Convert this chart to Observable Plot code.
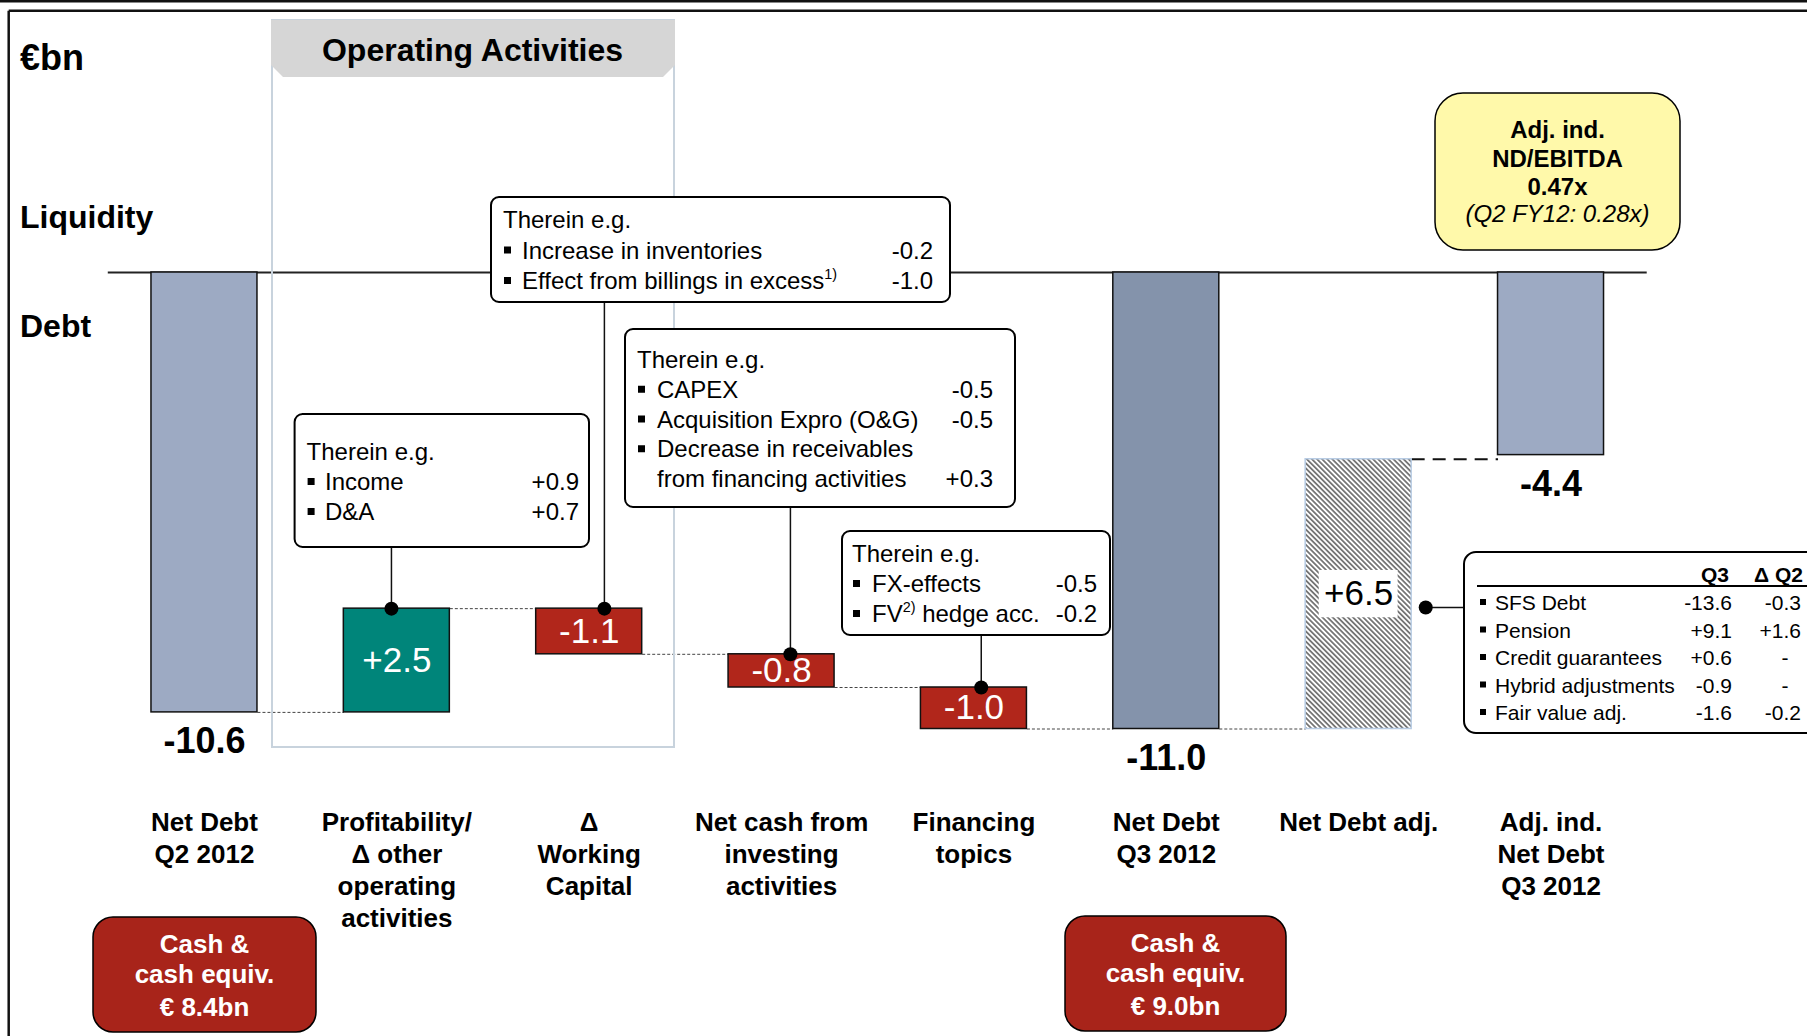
<!DOCTYPE html>
<html>
<head>
<meta charset="utf-8">
<script src="https://cdn.jsdelivr.net/npm/d3@7"></script>
<script src="https://cdn.jsdelivr.net/npm/@observablehq/plot@0.6"></script>
<style>
html, body { margin: 0; padding: 0; background: #fff; overflow: hidden; }
#wrap { position: relative; width: 1807px; height: 1036px; }
#wrap > svg { position: absolute; left: 0; top: 0; }
</style>
</head>
<body>
<div id="wrap"></div>
<script>
// ---------------- DATA ----------------
const categories = [
  "Net Debt\nQ2 2012",
  "Profitability/\nΔ other\noperating\nactivities",
  "Δ\nWorking\nCapital",
  "Net cash from\ninvesting\nactivities",
  "Financing\ntopics",
  "Net Debt\nQ3 2012",
  "Net Debt adj.",
  "Adj. ind.\nNet Debt\nQ3 2012"
];
const values = [-10.6, 2.5, -1.1, -0.8, -1.0, -11.0, 6.5, -4.4];
const kinds = ["total", "delta", "delta", "delta", "delta", "subtotal", "adjustment", "total"];

const calloutTitle = "Therein e.g.";
const profitItems = ["Income", "D&A"];
const profitValues = ["+0.9", "+0.7"];
const wcItems = ["Increase in inventories", "Effect from billings in excess{1)}"];
const wcValues = ["-0.2", "-1.0"];
const investItems = ["CAPEX", "Acquisition Expro (O&G)", "Decrease in receivables\nfrom financing activities"];
const investValues = ["-0.5", "-0.5", "+0.3"];
const finItems = ["FX-effects", "FV{2)} hedge acc."];
const finValues = ["-0.5", "-0.2"];

const adjHeaders = ["Q3", "Δ Q2"];
const adjItems = ["SFS Debt", "Pension", "Credit guarantees", "Hybrid adjustments", "Fair value adj."];
const adjQ3 = [-13.6, 9.1, 0.6, -0.9, -1.6];
const adjDeltaQ2 = [-0.3, 1.6, null, null, -0.2];

const ratioLines = ["Adj. ind.", "ND/EBITDA", "0.47x"];
const ratioPrior = "(Q2 FY12: 0.28x)";
const cashLabels = ["Cash &\ncash equiv.\n€ 8.4bn", "Cash &\ncash equiv.\n€ 9.0bn"];
const unitLabel = "€bn";
const sideLabels = ["Liquidity", "Debt"];
const sectionTitle = "Operating Activities";

// ---------------- STYLE / LAYOUT ----------------
const FONT = '"Liberation Sans", Arial, Helvetica, sans-serif';
const COLORS = {
  total: "#9DAAC3", subtotal: "#8493AB", up: "#00857A", down: "#B1261B",
  cash: "#A8241A", yellow: "#FFF9AA", hatchBorder: "#B8CCE4", outline: "#C8D3DD", header: "#D6D6D6",
  hatchPlaceholder: "#888887"
};
const HALF = 0.2755;
const xOpts = {type: "linear", domain: [-0.725, 7.725], range: [64.5, 1690]};
const yOpts = {type: "linear", domain: [(272 - 1036) / 41.5, 272 / 41.5], range: [1036, 0]};
const xs = Plot.scale({x: xOpts});
const ys = Plot.scale({y: yOpts});

const fmt = v => (v > 0 ? "+" : v < 0 ? "-" : "") + Math.abs(v).toFixed(1);

// waterfall geometry derived from the data
let running = 0;
const bars = values.map((v, i) => {
  const kind = kinds[i];
  let y1, y2;
  if (kind === "total" || kind === "subtotal") { y1 = 0; y2 = v; running = v; }
  else { y1 = running; y2 = +(running + v).toFixed(4); running = y2; }
  return {i, cat: categories[i], value: v, kind, y1, y2,
          top: Math.max(y1, y2), bottom: Math.min(y1, y2), level: running};
});
const connectors = bars.slice(0, -1).map((b, i) => ({x1: i + HALF, x2: i + 1 - HALF, y: b.level, last: i === bars.length - 2}));

const calloutLayout = [
  {items: profitItems, vals: profitValues, x: 294.6, y: 414, w: 294.4, h: 133, first: 460, step: 30, textX: 306.6, itemX: 325, valX: 579, cat: 1, offset: -0.028},
  {items: wcItems, vals: wcValues, x: 491, y: 197, w: 459, h: 105, first: 228, step: 30.5, textX: 503, itemX: 522, valX: 933, cat: 2, offset: 0.079},
  {items: investItems, vals: investValues, x: 625, y: 329, w: 390, h: 178, first: 368, step: 29.75, textX: 637, itemX: 657, valX: 993, cat: 3, offset: 0.046},
  {items: finItems, vals: finValues, x: 842, y: 531, w: 268, h: 104, first: 562, step: 30, textX: 852, itemX: 872, valX: 1097, cat: 4, offset: 0.038}
];
const tableLayout = {x: 1464, y: 552, w: 420, h: 181, header: 582, rule: 586, first: 610, step: 27.5,
  bulletX: 1480, itemX: 1495, q3X: 1732, dX: 1801, dashX: 1785, anchorCat: 6, anchorOffset: HALF + 0.073, anchorY: 607};

const leaders = calloutLayout.map(c => ({x: c.cat + c.offset, y1: ys.invert(c.y + c.h), y2: bars[c.cat].top}));
const tableLink = [{x1: tableLayout.anchorCat + tableLayout.anchorOffset, x2: xs.invert(tableLayout.x), y: ys.invert(tableLayout.anchorY)}];

// ---------------- PLOT ----------------
const chart = Plot.plot({
  width: 1807, height: 1036,
  marginTop: 0, marginRight: 0, marginBottom: 0, marginLeft: 0,
  x: {...xOpts, axis: null},
  y: {...yOpts, axis: null},
  style: {background: "transparent", fontFamily: FONT, overflow: "visible"},
  marks: [
    Plot.ruleY([0], {x1: () => -0.5, x2: () => 7.5, stroke: "#222", strokeWidth: 2}),
    Plot.link(connectors.filter(d => !d.last), {x1: "x1", x2: "x2", y1: "y", y2: "y", stroke: "#444", strokeWidth: 1, strokeDasharray: "3,2"}),
    Plot.link(connectors.filter(d => d.last), {x1: "x1", x2: "x2", y1: "y", y2: "y", stroke: "#111", strokeWidth: 2, strokeDasharray: "13,8"}),
    Plot.rect(bars.filter(d => d.kind === "total"), {x1: d => d.i - HALF, x2: d => d.i + HALF, y1: "y1", y2: "y2", fill: COLORS.total, stroke: "#111", strokeWidth: 1.5}),
    Plot.rect(bars.filter(d => d.kind === "subtotal"), {x1: d => d.i - HALF, x2: d => d.i + HALF, y1: "y1", y2: "y2", fill: COLORS.subtotal, stroke: "#111", strokeWidth: 1.5}),
    Plot.rect(bars.filter(d => d.kind === "delta" && d.value > 0), {x1: d => d.i - HALF, x2: d => d.i + HALF, y1: "y1", y2: "y2", fill: COLORS.up, stroke: "#111", strokeWidth: 1.5}),
    Plot.rect(bars.filter(d => d.kind === "delta" && d.value < 0), {x1: d => d.i - HALF, x2: d => d.i + HALF, y1: "y1", y2: "y2", fill: COLORS.down, stroke: "#111", strokeWidth: 1.5}),
    Plot.rect(bars.filter(d => d.kind === "adjustment"), {x1: d => d.i - HALF, x2: d => d.i + HALF, y1: "y1", y2: "y2", fill: COLORS.hatchPlaceholder, stroke: COLORS.hatchBorder, strokeWidth: 1.5}),
    // value labels
    Plot.text(bars.filter(d => d.kind === "total" || d.kind === "subtotal"), {x: "i", y: "bottom", text: d => fmt(d.value), dy: 15, lineAnchor: "top", fontSize: 36, fontWeight: "bold", fill: "#000"}),
    Plot.text(bars.filter(d => d.kind === "delta"), {x: "i", y: d => (d.y1 + d.y2) / 2, text: d => fmt(d.value), lineAnchor: "middle", fontSize: 35, fill: "#fff"}),
    Plot.rect(bars.filter(d => d.kind === "adjustment"), {x1: d => d.i - 0.205, x2: d => d.i + 0.205, y1: d => (d.y1 + d.y2) / 2 - 0.57, y2: d => (d.y1 + d.y2) / 2 + 0.57, fill: "#fff"}),
    Plot.text(bars.filter(d => d.kind === "adjustment"), {x: "i", y: d => (d.y1 + d.y2) / 2, text: d => fmt(d.value), lineAnchor: "middle", fontSize: 35, fill: "#000"}),
    // category labels
    Plot.text(categories, {x: (d, i) => i, text: d => d, frameAnchor: "top", dy: 808, lineAnchor: "top", fontSize: 26, fontWeight: "bold", lineHeight: 32 / 26, fill: "#000"}),
    // leaders
    Plot.ruleX(leaders, {x: "x", y1: "y1", y2: "y2", stroke: "#111", strokeWidth: 1.5}),
    Plot.dot(leaders, {x: "x", y: "y2", r: 7, fill: "#000", stroke: null}),
    Plot.link(tableLink, {x1: "x1", x2: "x2", y1: "y", y2: "y", stroke: "#111", strokeWidth: 1.5}),
    Plot.dot(tableLink, {x: "x1", y: "y", r: 7, fill: "#000", stroke: null})
  ]
});

// hatch pattern for the adjustment bar
const NS = "http://www.w3.org/2000/svg";
const defs = document.createElementNS(NS, "defs");
const pat = document.createElementNS(NS, "pattern");
pat.setAttribute("id", "hatch");
pat.setAttribute("patternUnits", "userSpaceOnUse");
pat.setAttribute("width", "3.6");
pat.setAttribute("height", "3.6");
pat.setAttribute("patternTransform", "rotate(-45)");
const pbg = document.createElementNS(NS, "rect");
pbg.setAttribute("width", "3.6"); pbg.setAttribute("height", "3.6"); pbg.setAttribute("fill", "#ffffff");
const pln = document.createElementNS(NS, "rect");
pln.setAttribute("x", "1.2"); pln.setAttribute("y", "0"); pln.setAttribute("width", "1.2"); pln.setAttribute("height", "3.6"); pln.setAttribute("fill", "#333333");
pat.appendChild(pbg); pat.appendChild(pln); defs.appendChild(pat);
chart.insertBefore(defs, chart.firstChild);
chart.querySelectorAll("[fill]").forEach(el => {
  if ((el.getAttribute("fill") || "").toLowerCase() === COLORS.hatchPlaceholder) el.setAttribute("fill", "url(#hatch)");
});

const wrap = document.getElementById("wrap");
wrap.appendChild(chart);

// ---------------- ANNOTATION OVERLAY ----------------
const ov = d3.create("svg").attr("width", 1807).attr("height", 1036)
  .style("overflow", "hidden").style("pointer-events", "none")
  .attr("font-family", FONT);

function text(g, x, y, s, o = {}) {
  const size = o.size || 24;
  const t = g.append("text").attr("x", x).attr("y", y)
    .attr("font-size", size).attr("fill", o.fill || "#000")
    .attr("text-anchor", o.anchor || "start");
  if (o.bold) t.attr("font-weight", "bold");
  if (o.italic) t.attr("font-style", "italic");
  const parts = s.split(/(\{[^}]*\})/);
  let pending = 0;
  parts.forEach(p => {
    if (!p) return;
    if (p.startsWith("{")) {
      t.append("tspan").attr("font-size", size * 0.6).attr("dy", pending - size * 0.4).text(p.slice(1, -1));
      pending = size * 0.4;
    } else {
      const sp = t.append("tspan").text(p);
      if (pending) sp.attr("dy", pending);
      pending = 0;
    }
  });
  return t;
}
function bullet(g, x, base) {
  g.append("rect").attr("x", x).attr("y", base - 12).attr("width", 7).attr("height", 7).attr("fill", "#000");
}

// frame
ov.append("line").attr("x1", 0).attr("x2", 1807).attr("y1", 1.2).attr("y2", 1.2).attr("stroke", "#111").attr("stroke-width", 2.5);
ov.append("line").attr("x1", 8.7).attr("x2", 1807).attr("y1", 10.8).attr("y2", 10.8).attr("stroke", "#111").attr("stroke-width", 2.5);
ov.append("line").attr("x1", 8.7).attr("x2", 8.7).attr("y1", 10.8).attr("y2", 1036).attr("stroke", "#111").attr("stroke-width", 2.5);

// operating activities section
ov.append("rect").attr("x", 272).attr("y", 20).attr("width", 402).attr("height", 727)
  .attr("fill", "none").attr("stroke", COLORS.outline).attr("stroke-width", 2);
ov.append("polygon").attr("points", "271,20 675,20 675,65 663,77 283,77 271,65").attr("fill", COLORS.header);
text(ov, 472.5, 61, sectionTitle, {size: 32, bold: true, anchor: "middle"});

// side labels
text(ov, 20, 70, unitLabel, {size: 36, bold: true});
text(ov, 20, 228, sideLabels[0], {size: 32, bold: true});
text(ov, 20, 337, sideLabels[1], {size: 32, bold: true});

// callouts
calloutLayout.forEach(c => {
  ov.append("rect").attr("x", c.x).attr("y", c.y).attr("width", c.w).attr("height", c.h)
    .attr("rx", 8).attr("fill", "#fff").attr("stroke", "#000").attr("stroke-width", 2);
  text(ov, c.textX, c.first, calloutTitle, {size: 24});
  let row = 1;
  c.items.forEach((item, k) => {
    const lines = item.split("\n");
    lines.forEach((ln, j) => {
      const base = c.first + c.step * row;
      if (j === 0) bullet(ov, c.textX + 1, base);
      text(ov, c.itemX, base, ln, {size: 24});
      if (j === lines.length - 1) text(ov, c.valX, base, c.vals[k], {size: 24, anchor: "end"});
      row++;
    });
  });
});

// net debt adjustment table
{
  const t = tableLayout;
  ov.append("rect").attr("x", t.x).attr("y", t.y).attr("width", t.w).attr("height", t.h)
    .attr("rx", 12).attr("fill", "#fff").attr("stroke", "#000").attr("stroke-width", 2);
  text(ov, t.q3X - 3, t.header, adjHeaders[0], {size: 21, bold: true, anchor: "end"});
  text(ov, t.dX + 2, t.header, adjHeaders[1], {size: 21, bold: true, anchor: "end"});
  ov.append("line").attr("x1", t.x + 13).attr("x2", 1830).attr("y1", t.rule).attr("y2", t.rule)
    .attr("stroke", "#000").attr("stroke-width", 2);
  adjItems.forEach((item, k) => {
    const base = t.first + t.step * k;
    ov.append("rect").attr("x", t.bulletX).attr("y", base - 11).attr("width", 6).attr("height", 6).attr("fill", "#000");
    text(ov, t.itemX, base, item, {size: 21});
    text(ov, t.q3X, base, fmt(adjQ3[k]), {size: 21, anchor: "end"});
    if (adjDeltaQ2[k] == null) text(ov, t.dashX, base, "-", {size: 21, anchor: "middle"});
    else text(ov, t.dX, base, fmt(adjDeltaQ2[k]), {size: 21, anchor: "end"});
  });
}

// ratio box
ov.append("rect").attr("x", 1435).attr("y", 93).attr("width", 245).attr("height", 157)
  .attr("rx", 28).attr("fill", COLORS.yellow).attr("stroke", "#000").attr("stroke-width", 1.5);
ratioLines.forEach((ln, k) => text(ov, 1557.5, [138, 167, 195][k], ln, {size: 24, bold: true, anchor: "middle"}));
text(ov, 1557.5, 222, ratioPrior, {size: 24, italic: true, anchor: "middle"});

// cash boxes
[{x: 93, y: 917, w: 223, cx: 204.5}, {x: 1065, y: 916, w: 221, cx: 1175.5}].forEach((b, k) => {
  ov.append("rect").attr("x", b.x).attr("y", b.y).attr("width", b.w).attr("height", 115)
    .attr("rx", 20).attr("fill", COLORS.cash).attr("stroke", "#000").attr("stroke-width", 1.5);
  cashLabels[k].split("\n").forEach((ln, j) =>
    text(ov, b.cx, b.y + [36, 66, 99][j], ln, {size: 26, bold: true, anchor: "middle", fill: "#fff"}));
});

wrap.appendChild(ov.node());
</script>
</body>
</html>
